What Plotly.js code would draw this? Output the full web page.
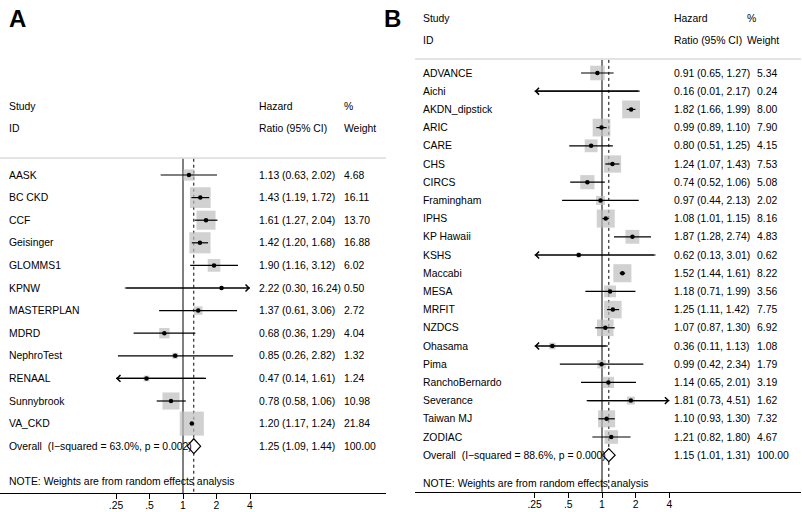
<!DOCTYPE html>
<html>
<head>
<meta charset="utf-8">
<script src="https://cdn.plot.ly/plotly-3.0.1.min.js"></script>
<style>body{margin:0;background:#fff}</style>
</head>
<body>
<div id="myDiv" style="width:802px;height:512px"></div>
<script>
// panel A data
var studyA = ['AASK', 'BC CKD', 'CCF', 'Geisinger', 'GLOMMS1', 'KPNW', 'MASTERPLAN', 'MDRD',
              'NephroTest', 'RENAAL', 'Sunnybrook', 'VA_CKD'];
var hrA = [1.13, 1.43, 1.61, 1.42, 1.90, 2.22, 1.37, 0.68, 0.85, 0.47, 0.78, 1.20];
var loA = [0.63, 1.19, 1.27, 1.20, 1.16, 0.30, 0.61, 0.36, 0.26, 0.14, 0.58, 1.17];
var hiA = [2.02, 1.72, 2.04, 1.68, 3.12, 16.24, 3.06, 1.29, 2.82, 1.61, 1.06, 1.24];
var wtA = [4.68, 16.11, 13.70, 16.88, 6.02, 0.50, 2.72, 4.04, 1.32, 1.24, 10.98, 21.84];
var overallA = [1.25, 1.09, 1.44, 100.00];
var hetA = ['63.0%', '0.002'];

// panel B data
var studyB = ['ADVANCE', 'Aichi', 'AKDN_dipstick', 'ARIC', 'CARE', 'CHS', 'CIRCS', 'Framingham',
              'IPHS', 'KP Hawaii', 'KSHS', 'Maccabi', 'MESA', 'MRFIT', 'NZDCS', 'Ohasama', 'Pima',
              'RanchoBernardo', 'Severance', 'Taiwan MJ', 'ZODIAC'];
var hrB = [0.91, 0.16, 1.82, 0.99, 0.80, 1.24, 0.74, 0.97, 1.08, 1.87, 0.62, 1.52, 1.18, 1.25,
           1.07, 0.36, 0.99, 1.14, 1.81, 1.10, 1.21];
var loB = [0.65, 0.01, 1.66, 0.89, 0.51, 1.07, 0.52, 0.44, 1.01, 1.28, 0.13, 1.44, 0.71, 1.11,
           0.87, 0.11, 0.42, 0.65, 0.73, 0.93, 0.82];
var hiB = [1.27, 2.17, 1.99, 1.10, 1.25, 1.43, 1.06, 2.13, 1.15, 2.74, 3.01, 1.61, 1.99, 1.42,
           1.30, 1.13, 2.34, 2.01, 4.51, 1.30, 1.80];
var wtB = [5.34, 0.24, 8.00, 7.90, 4.15, 7.53, 5.08, 2.02, 8.16, 4.83, 0.62, 8.22, 3.56, 7.75,
           6.92, 1.08, 1.79, 3.19, 1.62, 7.32, 4.67];
var overallB = [1.15, 1.01, 1.31, 100.00];
var hetB = ['88.6%', '0.000'];

var tickVals = [0.25, 0.5, 1, 2, 4];
var tickText = ['.25', '.5', '1', '2', '4'];
var xMin = 0.25, xMax = 4;

var W = 802, H = 512;
var FONT = 'Liberation Sans, Arial, Helvetica, sans-serif';
var FS = 10.4;
var traces = [], annos = [], shapes = [];

function f2(v) { return v.toFixed(2); }

function txt(px, row, s, yr, extra) {
  var a = {xref: 'paper', x: px / W, xanchor: 'left', yref: yr, y: row, yanchor: 'middle',
           text: s, showarrow: false, font: {family: FONT, size: FS, color: '#000'}};
  for (var k in extra) a[k] = extra[k];
  annos.push(a);
}

// open arrowhead where a CI runs off the axis
function arrow(tip, tail, row, xr, yr) {
  annos.push({xref: xr, yref: yr, axref: xr, ayref: yr, x: Math.log10(tip), y: row,
              ax: Math.log10(tail), ay: row, text: '', showarrow: true, arrowhead: 4,
              arrowsize: 1.1, arrowwidth: 1.2, arrowcolor: '#000', standoff: 0, startstandoff: 0});
}

function panel(names, hr, lo, hi, wt, ov, het, c) {
  var xr = c.xr, yr = c.yr, n = names.length;
  var ax = {xaxis: c.xr, yaxis: c.yr, hoverinfo: 'skip', showlegend: false};
  function add(t) { for (var k in ax) t[k] = ax[k]; traces.push(t); }

  // reference lines
  add({x: [1, 1], y: [c.lineTop, c.axisRow], mode: 'lines', line: {color: '#000', width: 1}});
  add({x: [ov[0], ov[0]], y: [c.lineTop, c.axisRow], mode: 'lines',
       line: {color: '#000', width: 1, dash: '3px,3px'}});

  // weight boxes
  var bx = [], by = [], bs = [];
  hr.forEach(function(v, i) {
    if (v >= xMin && v <= xMax) { bx.push(v); by.push(i); bs.push(c.boxK * Math.sqrt(wt[i])); }
  });
  add({x: bx, y: by, mode: 'markers',
       marker: {symbol: 'square', size: bs, color: '#bebebe', line: {width: 0}}});

  // confidence intervals, clipped to axis range
  var cx = [], cy = [];
  lo.forEach(function(l, i) {
    var a = Math.max(l, xMin), b = Math.min(hi[i], xMax);
    cx.push(a, b, null); cy.push(i, i, null);
    if (l < xMin) arrow(xMin, b, i, xr, yr);
    if (hi[i] > xMax) arrow(xMax, a, i, xr, yr);
  });
  add({x: cx, y: cy, mode: 'lines', line: {color: '#000', width: 1.2}});

  // point estimates
  add({x: bx, y: by, mode: 'markers', marker: {size: 4.5, color: '#000'}});

  // overall diamond
  add({x: [ov[1], ov[0], ov[2], ov[0], ov[1]], y: [n, n - c.dh, n, n + c.dh, n],
       mode: 'lines', fill: 'toself', fillcolor: '#fff', line: {color: '#000', width: 1.2}});

  // header
  txt(c.colName, c.hdr1, 'Study', yr);
  txt(c.colName, c.hdr2, 'ID', yr);
  txt(c.colHR, c.hdr1, 'Hazard', yr);
  txt(c.colHR, c.hdr2, 'Ratio (95% CI)', yr);
  txt(c.colWtH, c.hdr1, '%', yr);
  txt(c.colWtH, c.hdr2, 'Weight', yr);
  shapes.push({type: 'line', xref: 'paper', x0: c.x0 / W, x1: c.x1 / W, yref: yr,
               y0: c.sepRow, y1: c.sepRow, line: {color: '#c8c8c8', width: 1}});

  // rows
  names.forEach(function(s, i) {
    txt(c.colName, i, s, yr);
    txt(c.colHR, i, f2(hr[i]) + ' (' + f2(lo[i]) + ', ' + f2(hi[i]) + ')', yr);
    txt(c.colWt, i, f2(wt[i]), yr);
  });
  txt(c.colName, n, 'Overall\u00a0 (I\u2212squared = ' + het[0] + ', p = ' + het[1] + ')', yr);
  txt(c.colHR, n, f2(ov[0]) + ' (' + f2(ov[1]) + ', ' + f2(ov[2]) + ')', yr);
  txt(c.colWt, n, f2(ov[3]), yr);
  txt(c.colName, c.noteRow, 'NOTE: Weights are from random effects analysis', yr);
}

panel(studyA, hrA, loA, hiA, wtA, overallA, hetA, {
  xr: 'x', yr: 'y', boxK: 5.15, dh: 0.33, lineTop: -0.72, axisRow: 14.07,
  colName: 7, colHR: 257, colWt: 342, colWtH: 342, hdr1: -3.01, hdr2: -2.04,
  sepRow: -0.75, noteRow: 13.58, x0: 0, x1: 386
});
panel(studyB, hrB, loB, hiB, wtB, overallB, hetB, {
  xr: 'x2', yr: 'y2', boxK: 6.3, dh: 0.36, lineTop: -0.72, axisRow: 23.02,
  colName: 421, colHR: 672, colWt: 755, colWtH: 745, hdr1: -2.97, hdr2: -1.81,
  sepRow: -0.77, noteRow: 22.58, x0: 415, x1: 801
});

// panel letters
annos.push({xref: 'paper', yref: 'paper', x: 7 / W, y: 1 - 18.5 / H, xanchor: 'left', yanchor: 'middle',
            text: '<b>A</b>', showarrow: false, font: {family: FONT, size: 24, color: '#000'}});
annos.push({xref: 'paper', yref: 'paper', x: 382 / W, y: 1 - 18.5 / H, xanchor: 'left', yanchor: 'middle',
            text: '<b>B</b>', showarrow: false, font: {family: FONT, size: 24, color: '#000'}});

// log axis range from pixel placement: value 1 at px1, dpd px per doubling
function logRange(p0, p1, px1, dpd) {
  return [Math.LOG10E * Math.LN2 * (p0 - px1) / dpd, Math.LOG10E * Math.LN2 * (p1 - px1) / dpd];
}

function xAxis(p0, p1, px1, dpd, yPx) {
  return {type: 'log', domain: [p0 / W, p1 / W], range: logRange(p0, p1, px1, dpd),
          anchor: 'free', position: 1 - yPx / H, showline: true, linecolor: '#000', linewidth: 1,
          ticks: 'outside', ticklen: 5, tickwidth: 1, tickcolor: '#000', ticklabelstandoff: -2,
          tickmode: 'array', tickvals: tickVals, ticktext: tickText,
          tickfont: {family: FONT, size: FS, color: '#000'},
          showgrid: false, zeroline: false, fixedrange: true};
}

var layout = {
  width: W, height: H, margin: {l: 0, r: 0, t: 0, b: 0}, showlegend: false,
  paper_bgcolor: '#fff', plot_bgcolor: 'rgba(0,0,0,0)',
  font: {family: FONT, size: FS, color: '#000'},
  xaxis: xAxis(0, 386, 183, 33.5, 493),
  yaxis: {domain: [0, 1], range: [(H - 175) / 22.6, -175 / 22.6], visible: false, anchor: 'x', fixedrange: true},
  xaxis2: xAxis(415, 801, 602, 33.7, 492),
  yaxis2: {domain: [0, 1], range: [(H - 73) / 18.2, -73 / 18.2], visible: false, anchor: 'x2', fixedrange: true},
  shapes: shapes,
  annotations: annos
};

Plotly.newPlot('myDiv', traces, layout, {displayModeBar: false, staticPlot: true});
</script>
</body>
</html>
